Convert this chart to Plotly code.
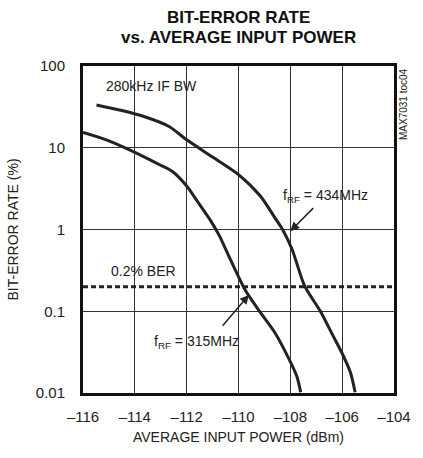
import plotly.graph_objects as go

x_315 = [-116.0, -115.1, -114.0, -113.04, -112.56, -112.0, -111.58, -111.1, -110.73, -110.37, -109.76, -109.15, -108.6, -108.05, -107.75, -107.6]
y_315 = [15.4, 12.5, 8.8, 6.2, 5.15, 3.4, 2.2, 1.32, 0.83, 0.47, 0.186, 0.096, 0.055, 0.026, 0.016, 0.0102]

x_434 = [-115.48, -114.5, -113.65, -112.68, -112.0, -111.0, -110.0, -109.15, -108.6, -108.3, -107.93, -107.45, -106.84, -106.35, -105.99, -105.68, -105.5]
y_434 = [33.4, 28.5, 24.1, 18.2, 12.5, 7.7, 4.7, 2.55, 1.4, 1.0, 0.57, 0.204, 0.10, 0.05, 0.030, 0.0178, 0.0102]

ber_x = [-116, -104]
ber_y = [0.2, 0.2]

x_ticks = [-116, -114, -112, -110, -108, -106, -104]
y_ticks = [0.01, 0.1, 1, 10, 100]
y_tick_labels = ["0.01", "0.1", "1", "10", "100"]

FONT = "Liberation Sans Narrow, Arial Narrow, Liberation Sans, Arial"

fig = go.Figure()
fig.add_trace(go.Scatter(x=x_315, y=y_315, mode="lines", line=dict(color="#222", width=3, shape="spline", smoothing=0.7), showlegend=False))
fig.add_trace(go.Scatter(x=x_434, y=y_434, mode="lines", line=dict(color="#222", width=3, shape="spline", smoothing=0.7), showlegend=False))
fig.add_trace(go.Scatter(x=ber_x, y=ber_y, mode="lines", line=dict(color="#222", width=3, dash="5px,3px"), showlegend=False))

ann_font = dict(family=FONT, size=14, color="#222")
fig.add_annotation(x=-115.2, y=1.75, xref="x", yref="y", text="280kHz IF BW", showarrow=False, xanchor="left", font=ann_font)
fig.add_annotation(x=-115.0, y=-0.51, xref="x", yref="y", text="0.2% BER", showarrow=False, xanchor="left", font=ann_font)
fig.add_annotation(x=-108.36, y=0.41, xref="x", yref="y", text="f<sub>RF</sub> = 434MHz", showarrow=False, xanchor="left", font=ann_font)
fig.add_annotation(x=-113.35, y=-1.37, xref="x", yref="y", text="f<sub>RF</sub> = 315MHz", showarrow=False, xanchor="left", font=ann_font)
# arrows
fig.add_annotation(x=-108.0, y=-0.02, ax=-107.06, ay=0.28, xref="x", yref="y", axref="x", ayref="y",
                   text=" ", showarrow=True, arrowhead=2, arrowsize=1.2, arrowwidth=1.5, arrowcolor="#222", font=dict(size=1))
fig.add_annotation(x=-109.6, y=-0.8, ax=-110.67, ay=-1.2, xref="x", yref="y", axref="x", ayref="y",
                   text=" ", showarrow=True, arrowhead=2, arrowsize=1.2, arrowwidth=1.5, arrowcolor="#222", font=dict(size=1))

fig.add_annotation(x=1.0, y=1.0, xref="paper", yref="paper", xshift=9, text="MAX7031 toc04", textangle=-90,
                   showarrow=False, xanchor="center", yanchor="top", font=dict(family=FONT, size=10, color="#222"))

# title as two annotations (pixel positions converted to paper coords)
W, H, L, R, T, B = 423, 458, 79, 15, 66, 65
pw, ph = W - L - R, H - T - B
title_font = dict(family=FONT, size=17, color="#111")
for txt, py in [("<b>BIT-ERROR RATE</b>", 6), ("<b>vs. AVERAGE INPUT POWER</b>", 26)]:
    fig.add_annotation(x=(243 - L) / pw, y=(H - B - py) / ph, xref="paper", yref="paper",
                       text=txt, showarrow=False, font=title_font)

fig.update_layout(
    width=W, height=H,
    margin=dict(l=L, r=R, t=T, b=B),
    paper_bgcolor="white", plot_bgcolor="white",
    font=dict(family=FONT, size=15, color="#222"),
)
fig.update_xaxes(range=[-116, -104], tickvals=x_ticks, ticktext=[f"\u2013{abs(v)}" for v in x_ticks],
                 showgrid=True, gridcolor="#333", gridwidth=1, zeroline=False,
                 showline=True, linecolor="#111", linewidth=3, mirror=True, ticks="",
                 ticklabelstandoff=8, ticklabeloverflow="allow",
                 title=dict(text="AVERAGE INPUT POWER (dBm)", standoff=9, font=dict(size=14)), tickfont=dict(size=15))
fig.update_yaxes(type="log", range=[-2, 2], tickvals=y_ticks, ticktext=y_tick_labels,
                 showgrid=True, gridcolor="#333", gridwidth=1, zeroline=False,
                 showline=True, linecolor="#111", linewidth=3, mirror=True, ticks="",
                 ticklabelstandoff=12, ticklabeloverflow="allow",
                 title=dict(text="BIT-ERROR RATE (%)", standoff=14, font=dict(size=14)), tickfont=dict(size=15))

fig.write_html("out.html", config={"displayModeBar": False},
               post_script="document.body.style.margin='0';document.body.style.overflow='hidden';")
